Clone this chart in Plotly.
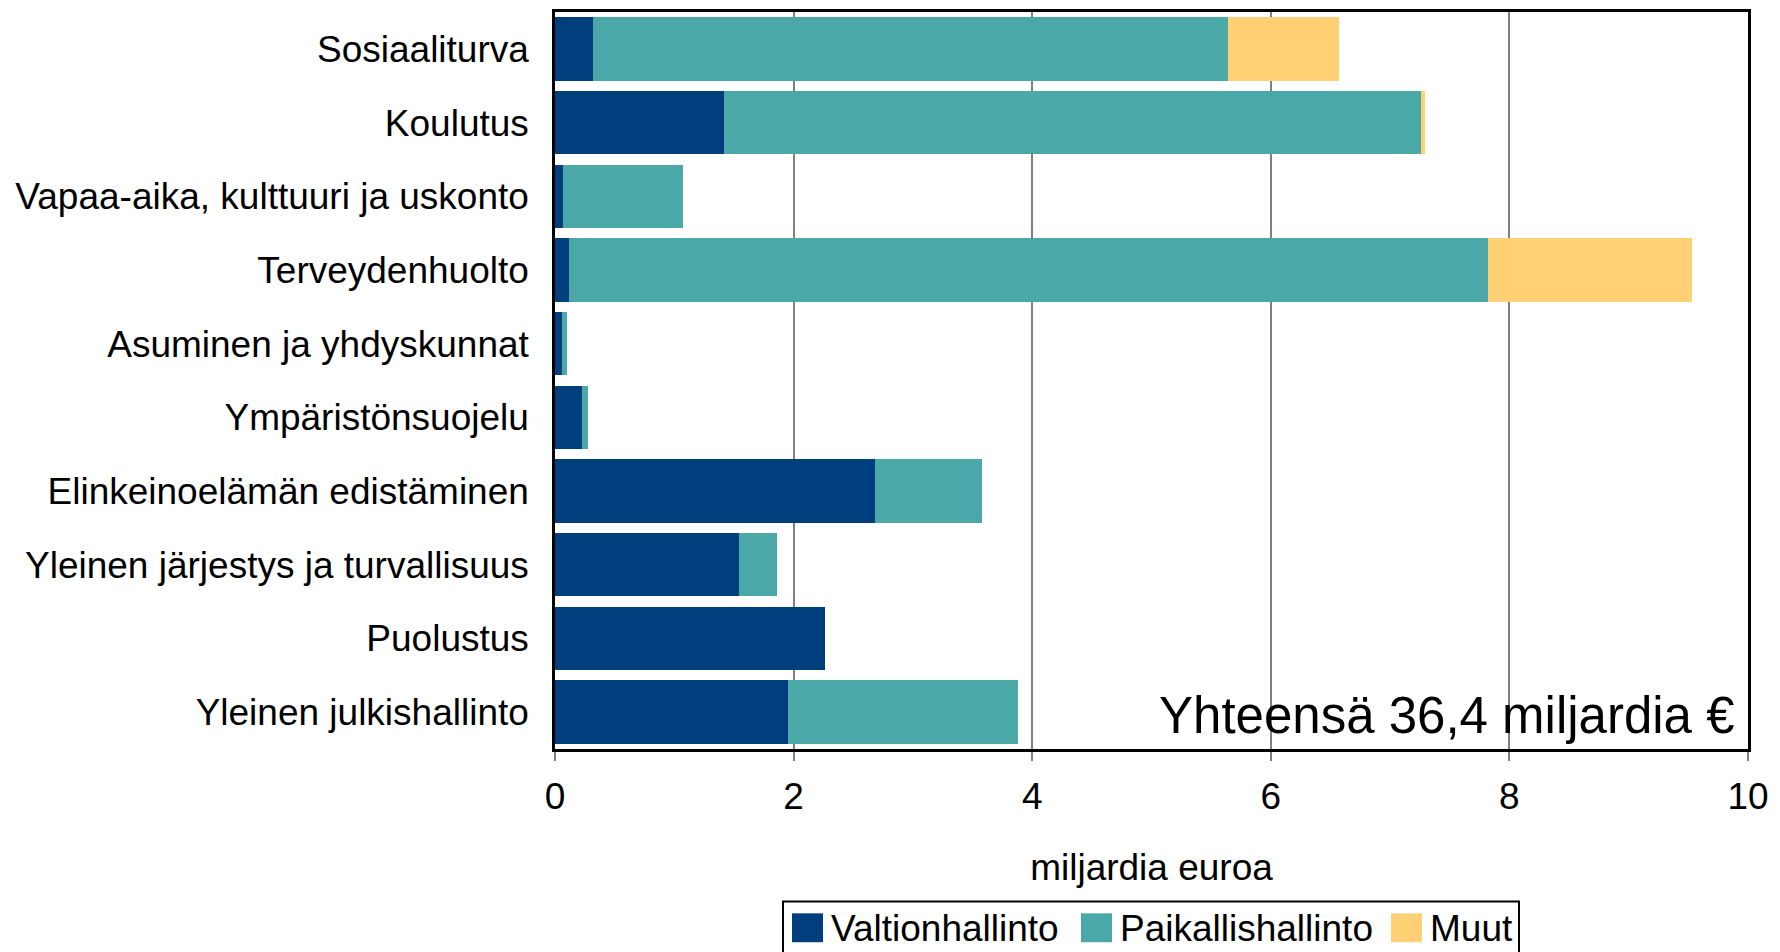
import plotly.graph_objects as go

categories = [
    "Sosiaaliturva",
    "Koulutus",
    "Vapaa-aika, kulttuuri ja uskonto",
    "Terveydenhuolto",
    "Asuminen ja yhdyskunnat",
    "Ympäristönsuojelu",
    "Elinkeinoelämän edistäminen",
    "Yleinen järjestys ja turvallisuus",
    "Puolustus",
    "Yleinen julkishallinto",
]
valtionhallinto = [0.32, 1.42, 0.07, 0.12, 0.06, 0.23, 2.68, 1.54, 2.26, 1.95]
paikallishallinto = [5.32, 5.84, 1.00, 7.70, 0.04, 0.05, 0.90, 0.32, 0.0, 1.93]
muut = [0.93, 0.03, 0.0, 1.71, 0.0, 0.0, 0.0, 0.0, 0.0, 0.0]

series_names = ["Valtionhallinto", "Paikallishallinto", "Muut"]
series_colors = ["#003F7D", "#4BA8A8", "#FFD074"]
total_text = "Yhteensä 36,4 miljardia €"

FONT = "Liberation Sans, Arial, sans-serif"
W, H = 1780, 952
OFF = 8  # page body margin
# plot area in window pixels: x 555..1748, y 9..749
L, R, T, B = 555 - OFF, W + OFF - 1748, 9 - OFF, H + OFF - 749


def px(x):
    return (x - 555) / (1748 - 555)


def py(y):
    return (749 - y) / (749 - 9)


fig = go.Figure()
for name, vals, color in zip(series_names, [valtionhallinto, paikallishallinto, muut], series_colors):
    fig.add_trace(go.Bar(
        y=categories, x=vals, name=name, orientation="h",
        marker=dict(color=color, line=dict(width=0)),
        showlegend=False,
    ))

fig.update_layout(
    barmode="stack",
    bargap=0.14,
    width=W, height=H,
    margin=dict(l=L, r=R, t=T, b=B),
    paper_bgcolor="white",
    plot_bgcolor="white",
    font=dict(family=FONT, size=37, color="black"),
)
fig.update_xaxes(
    range=[0, 10], dtick=2, showgrid=True, gridcolor="#808080", gridwidth=1.5,
    showline=True, linecolor="black", linewidth=2.5, mirror=True,
    ticks="outside", ticklen=9, tickcolor="#808080", tickwidth=1.5,
    ticklabelstandoff=4, zeroline=False,
    title=dict(text="miljardia euroa", standoff=38, font=dict(size=37)),
    tickfont=dict(size=37),
)
fig.update_yaxes(
    autorange="reversed", showgrid=False, showline=True, linecolor="black",
    linewidth=2.5, mirror=True, ticks="", ticklabelstandoff=16,
    tickfont=dict(size=37),
)

fig.add_annotation(
    text=total_text, xref="paper", yref="paper", x=px(1737), y=py(715),
    xanchor="right", yanchor="middle", showarrow=False,
    font=dict(size=51, family=FONT, color="black"),
)

# legend drawn by hand so the swatches can be as large as in the original
fig.add_shape(type="rect", xref="paper", yref="paper",
              x0=px(783), x1=px(1519), y0=py(902), y1=py(975),
              line=dict(color="black", width=2), fillcolor="white")
sw_x = [792, 1081, 1391]
for name, color, x0 in zip(series_names, series_colors, sw_x):
    fig.add_shape(type="rect", xref="paper", yref="paper",
                  x0=px(x0), x1=px(x0 + 31), y0=py(914), y1=py(943),
                  line=dict(width=0), fillcolor=color)
    fig.add_annotation(text=name, xref="paper", yref="paper",
                       x=px(x0 + 37), y=py(929), xanchor="left", yanchor="middle",
                       showarrow=False, font=dict(size=37, family=FONT, color="black"))

fig.write_html("out.html")
